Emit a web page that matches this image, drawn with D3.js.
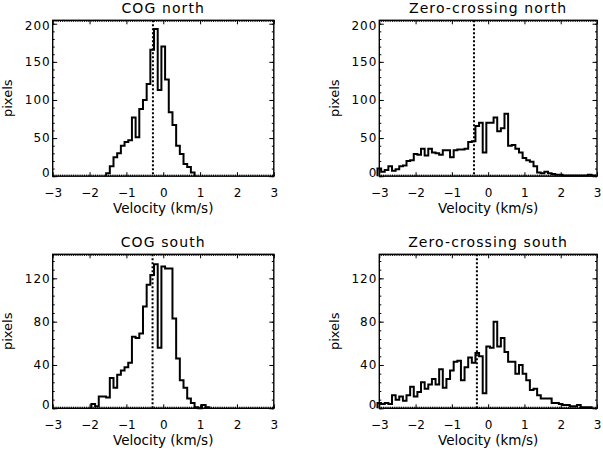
<!DOCTYPE html>
<html>
<head>
<meta charset="utf-8">
<script src="https://cdn.jsdelivr.net/npm/d3@7"></script>
<style>
  body { margin: 0; background: #fff; }
  text { font-family: "DejaVu Sans", sans-serif; fill: #000; }
</style>
</head>
<body>
<svg id="chart" width="603" height="450"></svg>
<script>
// velocity bins (km/s), bin centres
var binCenters = [-3.0, -2.9, -2.8, -2.7, -2.6, -2.5, -2.4, -2.3, -2.2, -2.1,
                  -2.0, -1.9, -1.8, -1.7, -1.6, -1.5, -1.4, -1.3, -1.2, -1.1,
                  -1.0, -0.9, -0.8, -0.7, -0.6, -0.5, -0.4, -0.3, -0.2, -0.1,
                   0.0,  0.1,  0.2,  0.3,  0.4,  0.5,  0.6,  0.7,  0.8,  0.9,
                   1.0,  1.1,  1.2,  1.3,  1.4,  1.5,  1.6,  1.7,  1.8,  1.9,
                   2.0,  2.1,  2.2,  2.3,  2.4,  2.5,  2.6,  2.7,  2.8,  2.9, 3.0];
var binWidth = 0.1;

// pixel counts per bin
var cogNorth = [0, 0, 0, 0, 0, 0, 0, 0, 0, 0,
                0, 0, 0, 0, 0, 4, 13, 25, 30, 40,
                45, 47, 77, 51, 88, 100, 121, 166, 193, 113,
                170, 127, 84, 67, 40, 29, 16, 12, 5, 0,
                0, 0, 0, 0, 0, 0, 0, 0, 0, 0,
                0, 0, 0, 0, 0, 0, 0, 0, 0, 0, 0];
var zeroNorth = [10, 6, 8, 13, 7, 9, 13, 14, 20, 21,
                 29, 28, 36, 27, 36, 31, 30, 28, 34, 34,
                 25, 34, 35, 35, 36, 45, 46, 66, 70, 31,
                 70, 70, 77, 59, 63, 82, 40, 41, 36, 31,
                 24, 21, 19, 13, 5, 4, 6, 4, 3, 2,
                 2, 1, 1, 1, 1, 1, 1, 1, 2, 1, 0];
var cogSouth = [0, 0, 0, 0, 0, 0, 0, 0, 0, 0,
                0, 4, 2, 11, 11, 10, 28, 19, 31, 35,
                38, 42, 66, 65, 69, 94, 114, 123, 133, 56,
                131, 129, 129, 83, 46, 26, 19, 9, 5, 1,
                0, 3, 1, 0, 0, 0, 0, 0, 0, 0,
                0, 0, 0, 0, 0, 0, 0, 0, 0, 0, 0];
var zeroSouth = [5, 4, 5, 4, 12, 8, 11, 7, 12, 20,
                 11, 15, 24, 18, 22, 27, 22, 36, 19, 27,
                 35, 43, 44, 26, 38, 47, 42, 51, 48, 14,
                 57, 56, 80, 57, 65, 52, 43, 43, 32, 40,
                 32, 26, 17, 18, 12, 9, 9, 9, 5, 5,
                 4, 3, 3, 2, 2, 3, 1, 1, 1, 0, 0];

var meanVelocity = [-0.28, -0.39, -0.29, -0.31];
var panelTitles = ["COG north", "Zero-crossing north", "COG south", "Zero-crossing south"];
var xTicks = [-3, -2, -1, 0, 1, 2, 3];
var yTicksNorth = [0, 50, 100, 150, 200];
var yTicksSouth = [0, 40, 80, 120];

var svg = d3.select("#chart");

var panels = [
  { counts: cogNorth,  title: panelTitles[0], mean: meanVelocity[0], left: 52.7,  right: 273.8, top: 20.3,  bottom: 176.2, ymax: 204.5, yTicks: yTicksNorth, yMinor: 10 },
  { counts: zeroNorth, title: panelTitles[1], mean: meanVelocity[1], left: 379.3, right: 597,   top: 20.3,  bottom: 176.2, ymax: 204.5, yTicks: yTicksNorth, yMinor: 10 },
  { counts: cogSouth,  title: panelTitles[2], mean: meanVelocity[2], left: 52.7,  right: 273.8, top: 254.3, bottom: 408.3, ymax: 142.2, yTicks: yTicksSouth, yMinor: 8 },
  { counts: zeroSouth, title: panelTitles[3], mean: meanVelocity[3], left: 379.3, right: 597,   top: 254.3, bottom: 408.3, ymax: 142.2, yTicks: yTicksSouth, yMinor: 8 }
];

function noDomain(sel){ sel.select(".domain").remove(); }

function drawPanel(p){
  var x = d3.scaleLinear().domain([-3, 3]).range([p.left, p.right]);
  var y = d3.scaleLinear().domain([0, p.ymax]).range([p.bottom, p.top]);
  var g = svg.append("g");

  var xFine = d3.range(-3, 3.001, 0.05);
  var yMinor = d3.range(0, p.ymax, p.yMinor);

  // fine x ticks (they read as a dotted band along the axis)
  g.append("g").attr("transform", "translate(0," + p.bottom + ")")
    .call(d3.axisBottom(x).tickValues(xFine).tickSize(-1.6).tickFormat("")).call(noDomain);
  g.append("g").attr("transform", "translate(0," + p.top + ")")
    .call(d3.axisTop(x).tickValues(xFine).tickSize(-1.6).tickFormat("")).call(noDomain);

  // major x ticks
  var xAxis = g.append("g").attr("transform", "translate(0," + p.bottom + ")")
    .call(d3.axisBottom(x).tickValues(xTicks).tickSize(-4).tickPadding(12).tickFormat(d3.format("d"))).call(noDomain);
  xAxis.selectAll("text").style("font-size", "12px");
  g.append("g").attr("transform", "translate(0," + p.top + ")")
    .call(d3.axisTop(x).tickValues(xTicks).tickSize(-4).tickFormat("")).call(noDomain);

  // y minor + major ticks
  g.append("g").attr("transform", "translate(" + p.left + ",0)")
    .call(d3.axisLeft(y).tickValues(yMinor).tickSize(-2).tickFormat("")).call(noDomain);
  g.append("g").attr("transform", "translate(" + p.right + ",0)")
    .call(d3.axisRight(y).tickValues(yMinor).tickSize(-2).tickFormat("")).call(noDomain);
  var yAxis = g.append("g").attr("transform", "translate(" + p.left + ",0)")
    .call(d3.axisLeft(y).tickValues(p.yTicks).tickSize(-4.5).tickPadding(2)).call(noDomain);
  // end labels are pulled inside the box, as in the original
  yAxis.selectAll("text")
    .style("font-size", "12px").style("letter-spacing", "1px")
    .attr("y", function(d){
      var yy = y(d);
      return Math.min(0, (p.bottom - 4) - yy) + Math.max(0, (p.top + 5) - yy);
    });
  g.append("g").attr("transform", "translate(" + p.right + ",0)")
    .call(d3.axisRight(y).tickValues(p.yTicks).tickSize(-4.5).tickFormat("")).call(noDomain);

  g.selectAll(".tick line").attr("stroke", "#000").attr("stroke-width", 1);

  // box
  g.append("rect")
    .attr("x", p.left).attr("y", p.top)
    .attr("width", p.right - p.left).attr("height", p.bottom - p.top)
    .attr("fill", "none").attr("stroke", "#000").attr("stroke-width", 1.4);

  // histogram step line
  var first = p.counts.findIndex(function(v){ return v > 0; });
  var last = p.counts.length - 1 - p.counts.slice().reverse().findIndex(function(v){ return v > 0; });
  var path = d3.path();
  path.moveTo(x(binCenters[first] - binWidth / 2), y(0));
  for (var i = first; i <= last; i++){
    path.lineTo(x(binCenters[i] - binWidth / 2), y(p.counts[i]));
    path.lineTo(x(binCenters[i] + binWidth / 2), y(p.counts[i]));
  }
  path.lineTo(x(binCenters[last] + binWidth / 2), y(0));
  g.append("path").attr("d", path.toString())
    .attr("fill", "none").attr("stroke", "#000").attr("stroke-width", 2)
    .attr("stroke-linejoin", "miter");

  // mean velocity (dotted)
  g.append("line")
    .attr("x1", x(p.mean)).attr("x2", x(p.mean))
    .attr("y1", p.top).attr("y2", p.bottom)
    .attr("stroke", "#000").attr("stroke-width", 2).attr("stroke-dasharray", "2,2");

  // texts
  var cx = (p.left + p.right) / 2;
  g.append("text").attr("x", cx).attr("y", p.top - 7)
    .attr("text-anchor", "middle").style("font-size", "14px").style("letter-spacing", "1.1px")
    .text(p.title);
  g.append("text").attr("x", cx).attr("y", p.bottom + 37)
    .attr("text-anchor", "middle").style("font-size", "13.5px")
    .text("Velocity (km/s)");
  g.append("text")
    .attr("transform", "translate(" + (p.left - 40.5) + "," + ((p.top + p.bottom) / 2) + ") rotate(-90)")
    .attr("text-anchor", "middle").style("font-size", "13px")
    .text("pixels");
}

panels.forEach(drawPanel);
</script>
</body>
</html>
